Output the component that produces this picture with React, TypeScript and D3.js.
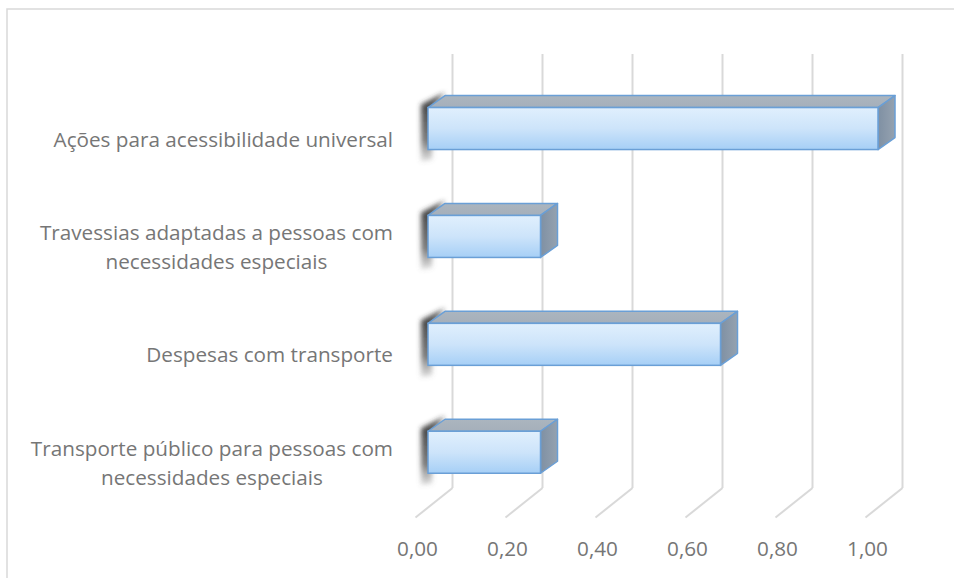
import React from "react";
import * as d3 from "d3";

const categories = [
  "Ações para acessibilidade universal",
  "Travessias adaptadas a pessoas com necessidades especiais",
  "Despesas com transporte",
  "Transporte público para pessoas com necessidades especiais",
];
const labelLines = [
  ["Ações para acessibilidade universal"],
  ["Travessias adaptadas a pessoas com", "necessidades especiais"],
  ["Despesas com transporte"],
  ["Transporte público para pessoas com", "necessidades especiais"],
];
const values = [1.0, 0.25, 0.65, 0.25];
const ticks = [0, 0.2, 0.4, 0.6, 0.8, 1.0];

const W = 954;
const H = 578;
const FONT = "'Open Sans', 'DejaVu Sans', sans-serif";
const FS = 20.7;
const TEXT = "#767676";
const GRID = "#d9d9d9";

let ctx: CanvasRenderingContext2D | null = null;
function measure(t: string): number {
  if (typeof document === "undefined") return t.length * FS * 0.5;
  if (!ctx) ctx = document.createElement("canvas").getContext("2d");
  if (!ctx) return t.length * FS * 0.5;
  ctx.font = `${FS}px 'Open Sans'`;
  return ctx.measureText(t).width;
}

export default function App() {
  const wallX = d3.scaleLinear().domain([0, 1]).range([452.5, 902.5]);
  const floorX = d3.scaleLinear().domain([0, 1]).range([415.5, 865.5]);
  const barX = d3.scaleLinear().domain([0, 1]).range([428, 878]);
  const wallTop = 54;
  const wallBottom = 488;
  const floorY = 517.5;
  const y = d3.scalePoint<string>().domain(categories).range([74.6, 506.2]).padding(0.5);
  const barH = 42;
  const dx = 17;
  const dy = -12;
  const labelRight = 393;
  const lineH = 29.5;
  const fmt = (v: number) => d3.format(".2f")(v).replace(".", ",");

  return (
    <svg
      width={W}
      height={H}
      style={{ position: "absolute", left: 0, top: 0, background: "#fff" }}
      fontFamily={FONT}
    >
      <defs>
        <linearGradient id="front" x1="0" y1="0" x2="0" y2="1">
          <stop offset="0" stopColor="#e0effd" />
          <stop offset="0.5" stopColor="#cde4fa" />
          <stop offset="1" stopColor="#a6cff6" />
        </linearGradient>
        <linearGradient id="top" x1="0" y1="0" x2="0" y2="1">
          <stop offset="0" stopColor="#abb5bf" />
          <stop offset="1" stopColor="#a5afba" />
        </linearGradient>
        <linearGradient id="side" x1="0" y1="0" x2="1" y2="0">
          <stop offset="0" stopColor="#7f90a3" />
          <stop offset="1" stopColor="#95a2b0" />
        </linearGradient>
        <linearGradient id="shade" x1="0" y1="0" x2="0" y2="1">
          <stop offset="0" stopColor="#2a2a2a" stopOpacity={0.95} />
          <stop offset="0.7" stopColor="#444" stopOpacity={0.7} />
          <stop offset="1" stopColor="#666" stopOpacity={0.2} />
        </linearGradient>
        <filter id="blur" x="-50%" y="-50%" width="200%" height="200%">
          <feGaussianBlur stdDeviation="2.5" />
        </filter>
      </defs>

      <rect x={7} y={9} width={W + 20} height={H + 20} fill="#fff" stroke={GRID} strokeWidth={1.5} />

      {/* gridlines on back wall and floor */}
      {ticks.map((t) => (
        <g key={"g" + t}>
          <line x1={wallX(t)} x2={wallX(t)} y1={wallTop} y2={wallBottom} stroke={GRID} strokeWidth={2} />
          <line x1={wallX(t)} x2={floorX(t)} y1={wallBottom} y2={floorY} stroke={GRID} strokeWidth={2} />
        </g>
      ))}

      {/* tick labels */}
      {ticks.map((t) => (
        <text
          key={"t" + t}
          x={floorX(t) + 2}
          y={548}
          textAnchor="middle"
          dominantBaseline="central"
          fontSize={FS}
          fill={TEXT}
        >
          {fmt(t)}
        </text>
      ))}

      {/* bars */}
      {categories.map((c, i) => {
        const cy = y(c) as number;
        const x0 = barX(0);
        const x1 = barX(values[i]);
        const yT = cy - barH / 2;
        const yB = cy + barH / 2;
        const shadow = [
          [x0 + dx, yT + dy - 3],
          [x0 - 7, yT - 3],
          [x0 - 7, yB + 12],
          [x0 + 4, yB + 10],
          [x0 + 4, yT],
        ];
        const topFace = [
          [x0, yT],
          [x0 + dx, yT + dy],
          [x1 + dx, yT + dy],
          [x1, yT],
        ];
        const sideFace = [
          [x1, yT],
          [x1 + dx, yT + dy],
          [x1 + dx, yB + dy],
          [x1, yB],
        ];
        const pts = (p: number[][]) => p.map((q) => q.join(",")).join(" ");
        return (
          <g key={c}>
            <polygon points={pts(shadow)} fill="url(#shade)" filter="url(#blur)" />
            <polygon points={pts(topFace)} fill="url(#top)" stroke="#6a9fd6" strokeWidth={1.5} strokeLinejoin="round" />
            <polygon points={pts(sideFace)} fill="url(#side)" stroke="#6a9fd6" strokeWidth={1.5} strokeLinejoin="round" />
            <rect x={x0} y={yT} width={x1 - x0} height={barH} fill="url(#front)" stroke="#6a9fd6" strokeWidth={1.5} />
          </g>
        );
      })}

      {/* category labels */}
      {categories.map((c, i) => {
        const lines = labelLines[i];
        const widths = lines.map(measure);
        const bw = Math.max(...widths);
        const cx = labelRight - bw / 2;
        const cy = (y(c) as number) + 10;
        const y0 = cy - ((lines.length - 1) * lineH) / 2;
        return (
          <text key={"l" + c} fontSize={FS} fill={TEXT} textAnchor="middle" dominantBaseline="central">
            {lines.map((l, j) => (
              <tspan key={j} x={cx} y={y0 + j * lineH}>
                {l}
              </tspan>
            ))}
          </text>
        );
      })}
    </svg>
  );
}
